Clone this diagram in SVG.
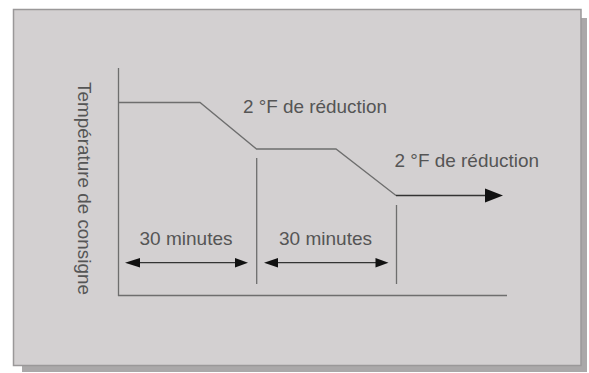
<svg xmlns="http://www.w3.org/2000/svg" width="589" height="373" viewBox="0 0 589 373">
<style>
.lbl{font-family:"Liberation Sans",Arial,sans-serif;font-size:19px;fill:#555555}
.ln{stroke:#6e6e6e;stroke-width:1.3;fill:none}
.arr{stroke:#333;stroke-width:1.3;fill:none}
.head{fill:#111}
</style>
<rect x="0" y="0" width="589" height="373" fill="#ffffff"/>
<g id="panel">
<rect x="22" y="18" width="565" height="354" fill="#aaa8a9"/>
<rect x="13.5" y="9.5" width="567.5" height="356" fill="#d3d0d1" stroke="#9a9899" stroke-width="1.5"/>
</g>
<g id="axes">
<line class="ln" x1="118.5" y1="68" x2="118.5" y2="296"/>
<line class="ln" x1="118" y1="295.5" x2="507" y2="295.5"/>
</g>
<g id="curve">
<polyline class="ln" points="118.5,102.5 200,102.5 256.5,149 336,149 396,195.5"/>
<line class="arr" x1="396" y1="195.5" x2="488" y2="195.5"/>
<polygon class="head" points="485,188.5 503,195.5 485,202.5"/>
</g>
<g id="markers">
<line class="ln" x1="256.7" y1="158" x2="256.7" y2="284"/>
<line class="ln" x1="396.5" y1="205" x2="396.5" y2="284"/>
</g>
<g id="connectors">
<line class="arr" x1="135" y1="262.7" x2="238" y2="262.7"/>
<polygon class="head" points="125,262.7 140,258 140,267.4"/>
<polygon class="head" points="248,262.7 235,258 235,267.4"/>
<line class="arr" x1="274" y1="262.7" x2="378" y2="262.7"/>
<polygon class="head" points="264,262.7 278,258 278,267.4"/>
<polygon class="head" points="388.5,262.7 375.5,258 375.5,267.4"/>
</g>
<g id="labels">
<text class="lbl" x="243" y="113.3" textLength="144" lengthAdjust="spacingAndGlyphs">2 °F de réduction</text>
<text class="lbl" x="394.5" y="167" textLength="144.5" lengthAdjust="spacingAndGlyphs">2 °F de réduction</text>
<text class="lbl" x="139.5" y="245" textLength="93" lengthAdjust="spacingAndGlyphs">30 minutes</text>
<text class="lbl" x="279" y="245" textLength="93" lengthAdjust="spacingAndGlyphs">30 minutes</text>
<text class="lbl" transform="translate(78,82) rotate(90)" x="0" y="0" font-size="19.5" textLength="213" lengthAdjust="spacingAndGlyphs">Température de consigne</text>
</g>
</svg>
